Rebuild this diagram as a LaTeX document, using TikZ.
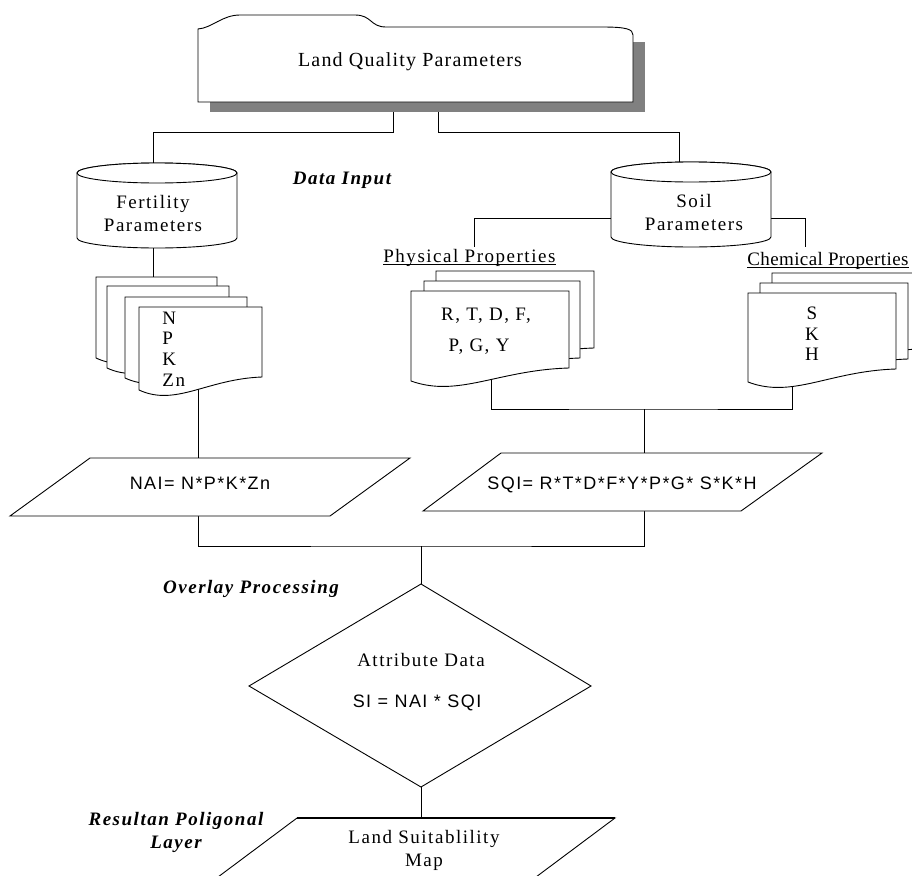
\documentclass[tikz,border=0pt]{standalone}
\usepackage{fontspec}
\setmainfont{Liberation Serif}
\newfontfamily\srf[LetterSpace=8]{Liberation Serif}
\newfontfamily\srfnarrow[LetterSpace=2]{Liberation Serif}
\newfontfamily\srftop[LetterSpace=6]{Liberation Serif}
\newfontfamily\sns[LetterSpace=8]{Liberation Sans}
% document page: L T W H
\newcommand\docpage[4]{%
  \filldraw[shp] (#1,#2) -- ({#1+#3},#2) -- ({#1+#3},{#2+#4})
    .. controls ({#1+0.55*#3},{#2+#4+2}) and ({#1+0.3*#3},{#2+#4+30}) .. (#1,{#2+#4+13}) -- cycle;}
% cylinder: cx ytop ybot rx ry
\newcommand\cylshape[5]{%
  \filldraw[shp] ({#1-#4},#2) -- ({#1-#4},#3)
    .. controls ({#1-#4},{#3+0.5523*#5}) and ({#1-0.5523*#4},{#3+#5}) .. (#1,{#3+#5})
    .. controls ({#1+0.5523*#4},{#3+#5}) and ({#1+#4},{#3+0.5523*#5}) .. ({#1+#4},#3)
    -- ({#1+#4},#2)
    .. controls ({#1+#4},{#2-0.5523*#5}) and ({#1+0.5523*#4},{#2-#5}) .. (#1,{#2-#5})
    .. controls ({#1-0.5523*#4},{#2-#5}) and ({#1-#4},{#2-0.5523*#5}) .. ({#1-#4},#2) -- cycle;
  \draw[shp] (#1,#2) ellipse [x radius=#4, y radius=#5];}
\begin{document}
\begin{tikzpicture}[x=1pt,y=-1pt,line width=0.8pt,
  shp/.style={draw,line width=0.9pt,fill=white},
  txt/.style={font=\srf\fontsize{19}{23}\selectfont,inner sep=0pt,align=center},
  stxt/.style={font=\sns\fontsize{18}{22}\selectfont,inner sep=0pt},
  lab/.style={font=\srf\bfseries\itshape\fontsize{19}{23}\selectfont,inner sep=0pt,align=center}]
\clip (0,0) rectangle (912,875);
\fill[white] (0,0) rectangle (912,875);

% ---------- anchor coordinates ----------
\coordinate (tb1) at (393,102);
\coordinate (tb2) at (438,102);
\coordinate (fc-top) at (153,163);
\coordinate (fc-bot) at (153,248);
\coordinate (fd-top) at (153,277);
\coordinate (sc-top) at (679,162);
\coordinate (sc-left) at (611,218);
\coordinate (sc-right) at (771,218);
\coordinate (pp-top) at (474,247);
\coordinate (cp-top) at (805,247);
\coordinate (fd-bot) at (198.5,380);
\coordinate (pd-bot) at (491,375);
\coordinate (cd-bot) at (792,380);
\coordinate (j2) at (644.5,409);
\coordinate (sqi-top) at (644.5,453);
\coordinate (nai-top) at (198.5,458);
\coordinate (nai-bot) at (198.5,516);
\coordinate (sqi-bot) at (644.5,511);
\coordinate (j3) at (421,546);
\coordinate (dia-top) at (421,584);
\coordinate (dia-bot) at (421,787);
\coordinate (map-top) at (421,818);

% ---------- connectors ----------
\draw (tb1) -- ++(0,30) -| (fc-top);
\draw (tb2) -- ++(0,30) -| (sc-top);
\draw (fc-bot) -- (fd-top);
\draw (sc-left) -| (pp-top);
\draw (sc-right) -| (cp-top);
\draw (fd-bot) -- (nai-top);
\draw (pd-bot) |- (j2) -| (cd-bot);
\draw (j2) -- (sqi-top);
\draw (nai-bot) |- (j3) -| (sqi-bot);
\draw (j3) -- (dia-top);
\draw (dia-bot) -- (map-top);

% ---------- top box ----------
\fill[black!50] (210,42) rectangle (645,112);
\filldraw[shp] (198,102) -- (198,29) .. controls (212,28) and (222,15) .. (240,15) -- (355,15)
  .. controls (372,15) and (370,27) .. (386,27) -- (602,27)
  .. controls (626,27) and (633,29) .. (633,35) -- (633,102) -- cycle;
\node[txt,font=\srftop\fontsize{20}{24}\selectfont] (lqp) at (410,62) {Land Quality Parameters};

% ---------- cylinders ----------
\cylshape{157}{173}{238}{80}{10}
\node[txt] (fert) at (153,213) {Fertility\\Parameters};
\cylshape{691}{172}{237}{80}{10}
\node[txt] (soil) at (694,212) {Soil\\Parameters};

\node[lab] (datainput) at (342,180) {Data Input};

% ---------- fertility documents ----------
\docpage{96}{277}{121}{68}
\docpage{107}{286}{122}{69}
\docpage{125}{297}{122}{68}
\docpage{139}{307}{123}{70}
\node[txt,align=left,anchor=west,font=\srf\fontsize{19}{20.7}\selectfont] (npk) at (162,349) {N\\P\\K\\Zn};

% ---------- physical documents ----------
\node[txt,anchor=base west] (pp) at (383,262) {Physical Properties};
\draw[line width=0.7pt] ([yshift=-2.5pt]pp.base west) -- ([yshift=-2.5pt]pp.base east);
\docpage{436}{271}{158}{77}
\docpage{424}{281}{156}{77}
\docpage{411}{291}{158}{77}
\node[txt] (rtdf) at (486,316) {R, T, D, F,};
\node[txt] (pgy) at (479,347) {P, G, Y};

% ---------- chemical documents ----------
\node[txt,anchor=base west,font=\srfnarrow\fontsize{19}{23}\selectfont] (cp) at (747,265) {Chemical Properties};
\draw[line width=0.7pt] ([yshift=-2.5pt]cp.base west) -- ([yshift=-2.5pt]cp.base east);
\docpage{772}{273}{148}{76}
\docpage{760}{283}{148}{76}
\docpage{748}{293}{148}{76}
\node[txt,font=\srf\fontsize{19}{20.5}\selectfont] (skh) at (812,334) {S\\K\\H};

% ---------- parallelograms ----------
\filldraw[shp] (90,458) -- (410,458) -- (330,516) -- (10,516) -- cycle;
\node[stxt] (nai) at (200,483) {NAI= N*P*K*Zn};
\filldraw[shp] (501,453) -- (822,453) -- (741,511) -- (423,511) -- cycle;
\node[stxt] (sqi) at (622,485) {SQI= R*T*D*F*Y*P*G* S*K*H};

% ---------- overlay ----------
\node[lab] (overlay) at (251,589) {Overlay Processing};
\filldraw[shp] (dia-top) -- (591,686) -- (dia-bot) -- (249,686) -- cycle;
\node[txt] (attr) at (421,660) {Attribute Data};
\node[stxt] (si) at (417,703) {SI = NAI * SQI};

% ---------- result ----------
\node[lab] (result) at (176,832) {Resultan Poligonal\\Layer};
\filldraw[shp] (297,818) -- (615,818) -- (536,877) -- (218,877) -- cycle;
\draw[line width=1.6pt] (297,818) -- (615,818);
\node[txt] (map) at (424,850) {Land Suitablility\\Map};
\end{tikzpicture}
\end{document}
